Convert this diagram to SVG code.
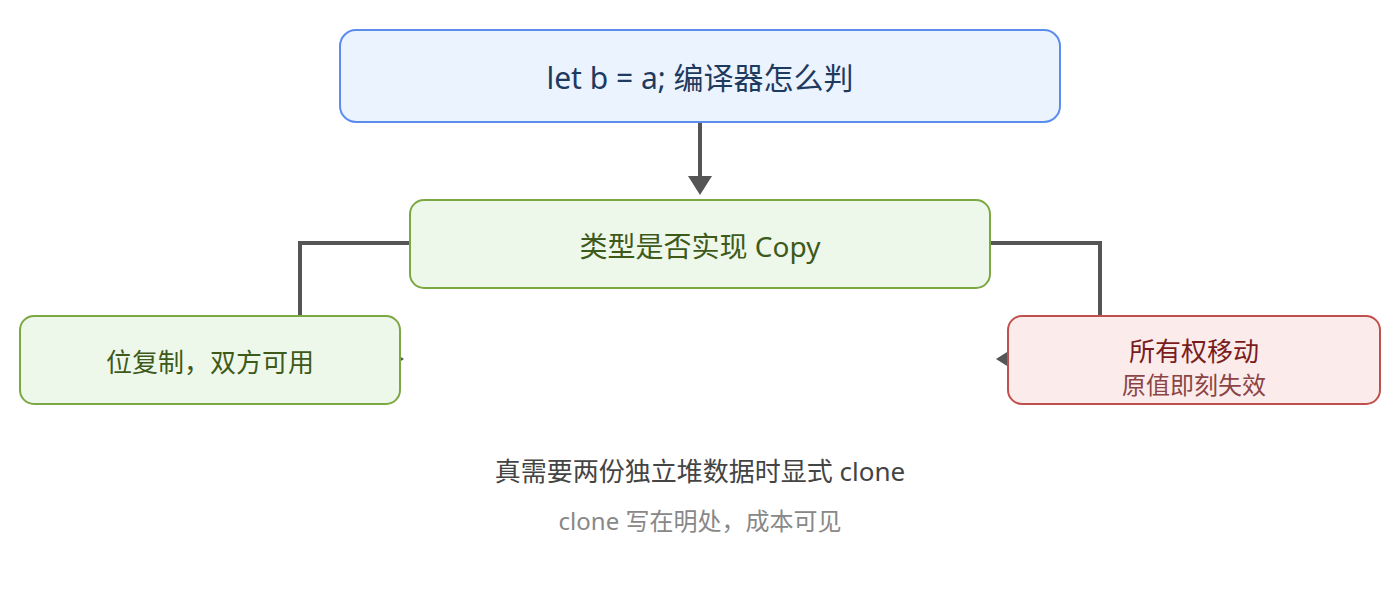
<svg xmlns="http://www.w3.org/2000/svg" width="1400" height="600" viewBox="0 0 1400 600">
<defs>
<style>
text{font-family:"Noto Sans","Open Sans","Noto Sans CJK SC",sans-serif;text-anchor:middle;dominant-baseline:central}
.conn{fill:none;stroke:#555;stroke-width:4}
.head{fill:#555}
.green rect{fill:#eef8ea;stroke:#7ba843;stroke-width:2}
.green text{fill:#3d5a1a}
</style>
</defs>
<rect width="1400" height="600" fill="#fff"/>
<g id="connectors">
<path class="conn" d="M700,122 V178"/>
<polygon class="head" points="688,176 712,176 700,195"/>
<path class="conn" d="M410,243 H300 V316"/>
<polygon class="head" points="385,347 385,371 404,359"/>
<path class="conn" d="M990,243 H1100 V316"/>
<polygon class="head" points="1015,347 1015,371 996,359"/>
</g>
<g id="node-top">
<rect x="340" y="30" width="720" height="92" rx="16" fill="#ebf3fe" stroke="#5b8def" stroke-width="2"/>
<text x="700" y="77" font-size="30" fill="#1e3a5f">let b = a; 编译器怎么判</text>
</g>
<g id="node-copy" class="green">
<rect x="410" y="200" width="580" height="88" rx="14"/>
<text x="700" y="246" font-size="28">类型是否实现 Copy</text>
</g>
<g id="node-left" class="green">
<rect x="20" y="316" width="380" height="88" rx="14"/>
<text x="210" y="362" font-size="26">位复制，双方可用</text>
</g>
<g id="node-right">
<rect x="1008" y="316" width="372" height="88" rx="14" fill="#fbeceb" stroke="#c0504d" stroke-width="2"/>
<text x="1194" y="351" font-size="26" fill="#7a1c1c">所有权移动</text>
<text x="1194" y="384" font-size="24" fill="#8b4545">原值即刻失效</text>
</g>
<g id="notes">
<text x="700" y="471" font-size="26" fill="#444">真需要两份独立堆数据时显式 clone</text>
<text x="700" y="520" font-size="24" fill="#888">clone 写在明处，成本可见</text>
</g>
</svg>
